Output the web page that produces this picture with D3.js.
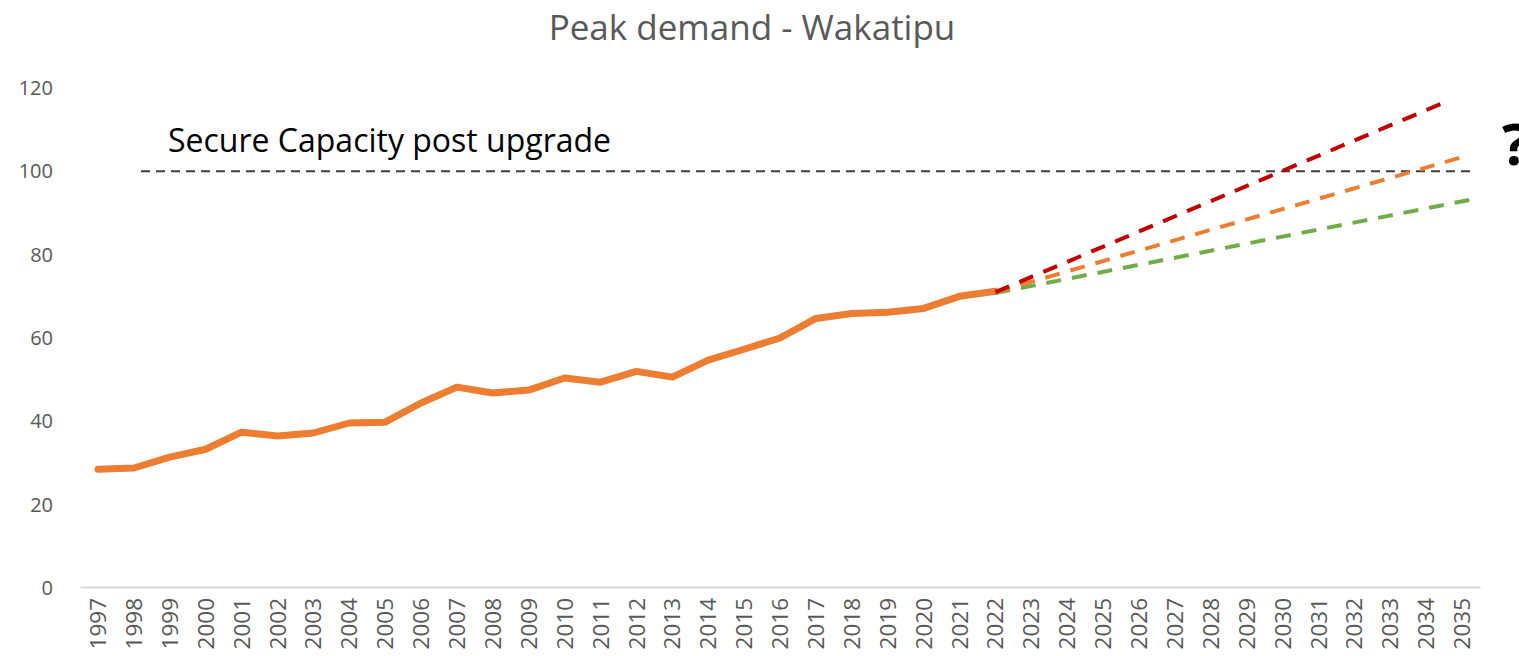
<!DOCTYPE html>
<html>
<head>
<meta charset="utf-8">
<script src="https://cdn.jsdelivr.net/npm/d3@7"></script>
<style>
  body { margin: 0; background: #fff; }
  svg { display: block; }
</style>
</head>
<body>
<div id="chart"></div>
<script>
// years on the category axis
const years = d3.range(1997, 2036).map(String)

// actual peak demand (MW), 1997 - 2022
const actualYears = d3.range(1997, 2023).map(String)
const actualValues = [28.5, 28.8, 31.4, 33.3, 37.4, 36.5, 37.2, 39.6, 39.8, 44.4,
    48.2, 46.8, 47.5, 50.4, 49.4, 52.0, 50.6, 54.7, 57.3, 60.0,
    64.7, 65.9, 66.2, 67.1, 70.0, 71.2]

// projected growth scenarios (start / end year, value)
const highYears = [2022, 2034.5]
const highValues = [71.0, 116.5]
const midYears = [2022, 2035]
const midValues = [71.0, 103.4]
const lowYears = [2022, 2035.3]
const lowValues = [70.8, 93.3]

// secure capacity line
const capacityYears = [1998.2, 2035.35]
const capacityValues = [100, 100]

const yTicks = [0, 20, 40, 60, 80, 100, 120]

const width = 1519
const height = 656
const margin = {top: 88, right: 39, bottom: 68, left: 80}

const svg = d3.select("#chart")
    .append("svg")
    .attr("width", width)
    .attr("height", height)

const x = d3.scaleBand()
    .domain(years)
    .range([margin.left, width - margin.right])

// numeric year scale aligned with the band centres, for the dashed overlays
const xYear = d3.scaleLinear()
    .domain([1997, 2035])
    .range([x("1997") + x.bandwidth() / 2, x("2035") + x.bandwidth() / 2])

const y = d3.scaleLinear()
    .domain([0, 120])
    .range([height - margin.bottom, margin.top])

// title
svg.append("text")
    .attr("x", 752)
    .attr("y", 40)
    .attr("text-anchor", "middle")
    .style("font-family", "'Open Sans', sans-serif")
    .style("font-size", "35px")
    .style("fill", "#595959")
    .text("Peak demand - Wakatipu")

// y axis labels
svg.append("g")
    .attr("transform", "translate(" + margin.left + ",0)")
    .call(d3.axisLeft(y).tickValues(yTicks).tickSize(0).tickPadding(27))
    .call(g => g.select(".domain").remove())
    .selectAll("text")
    .style("font-family", "'Open Sans', sans-serif")
    .style("font-size", "20px")
    .style("fill", "#595959")

// x axis
const xAxis = svg.append("g")
    .attr("transform", "translate(0," + (y(0) - 1) + ")")
    .call(d3.axisBottom(x).tickSize(0))
xAxis.select(".domain")
    .attr("stroke", "#d9d9d9")
    .attr("stroke-width", 2)
xAxis.selectAll("text")
    .attr("transform", "rotate(-90)")
    .attr("x", -11)
    .attr("y", 0)
    .attr("dy", "0.36em")
    .attr("text-anchor", "end")
    .style("font-family", "'Open Sans', sans-serif")
    .style("font-size", "22.5px")
    .style("fill", "#595959")

const pairs = (xs, vs) => xs.map((d, i) => [d, vs[i]])

const yearLine = d3.line()
    .x(d => xYear(d[0]))
    .y(d => y(d[1]))

// secure capacity
svg.append("path")
    .datum(pairs(capacityYears, capacityValues))
    .attr("d", yearLine)
    .attr("fill", "none")
    .attr("stroke", "#404040")
    .attr("stroke-width", 2)
    .attr("stroke-dasharray", "9,6")

svg.append("text")
    .attr("x", 168)
    .attr("y", 152)
    .style("font-family", "'Open Sans', sans-serif")
    .style("font-size", "32px")
    .style("fill", "#000")
    .text("Secure Capacity post upgrade")

// actual demand
const actualLine = d3.line()
    .x((d, i) => x(actualYears[i]) + x.bandwidth() / 2)
    .y(d => y(d))

svg.append("path")
    .datum(actualValues)
    .attr("d", actualLine)
    .attr("fill", "none")
    .attr("stroke", "#ed7d31")
    .attr("stroke-width", 7)
    .attr("stroke-linejoin", "round")
    .attr("stroke-linecap", "round")

// scenarios
const scenarios = [
    {xs: lowYears, vs: lowValues, color: "#70ad47"},
    {xs: midYears, vs: midValues, color: "#ed7d31"},
    {xs: highYears, vs: highValues, color: "#c00000"}
]
scenarios.forEach(s => {
    svg.append("path")
        .datum(pairs(s.xs, s.vs))
        .attr("d", yearLine)
        .attr("fill", "none")
        .attr("stroke", s.color)
        .attr("stroke-width", 4)
        .attr("stroke-dasharray", "15,11")
})

// question mark at the right edge (cut off, as in the original)
svg.append("text")
    .attr("x", 1502)
    .attr("y", 165)
    .style("font-family", "'Open Sans', sans-serif")
    .style("font-weight", "bold")
    .style("font-size", "58px")
    .style("fill", "#000")
    .text("?")
</script>
</body>
</html>
